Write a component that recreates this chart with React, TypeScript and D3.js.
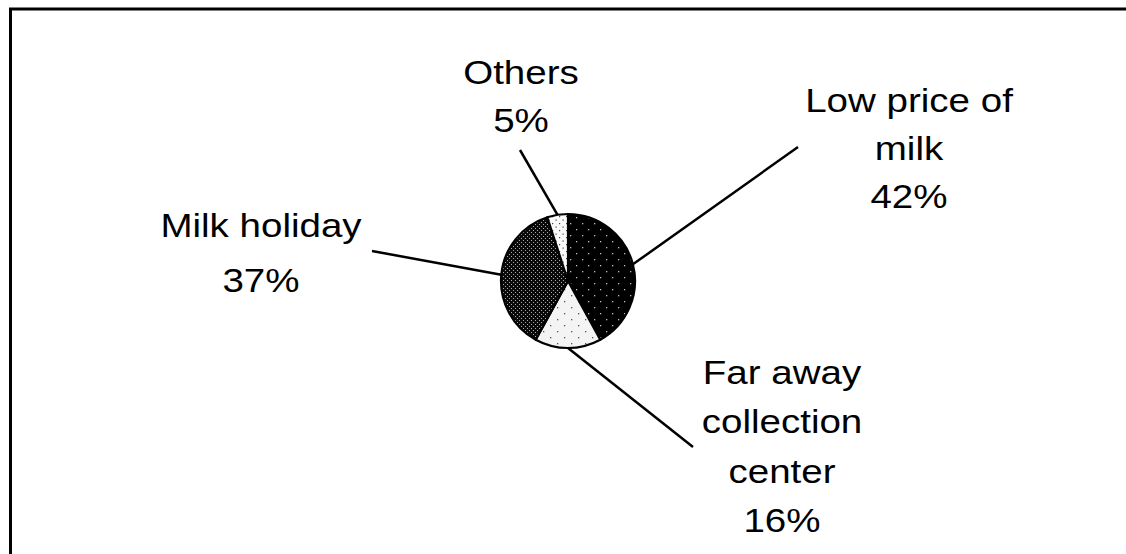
import React from "react";
import * as d3 from "d3";

// Reasons given for the problem, share of respondents (%)
const categories = ["Low price of milk", "Far away collection center", "Milk holiday", "Others"];
const values = [42, 16, 37, 5];
const labelLines = [
  ["Low price of", "milk", "42%"],
  ["Far away", "collection", "center", "16%"],
  ["Milk holiday", "37%"],
  ["Others", "5%"],
];

// Label placement: text centre x, first baseline, line spacing, leader end point
const labelLayout = [
  { x: 909, y: 112, lh: 48, lx: 798, ly: 147 },
  { x: 782, y: 384, lh: 49.5, lx: 693, ly: 447 },
  { x: 261, y: 237, lh: 55, lx: 372, ly: 251 },
  { x: 521, y: 84, lh: 48.5, lx: 520, ly: 150 },
];

const fills = ["url(#patLow)", "url(#patFar)", "url(#patHoliday)", "url(#patOthers)"];

const W = 1126;
const H = 554;
const cx = 568;
const cy = 281;
const R = 67;

export default function App() {
  const pie = d3.pie<number>().sort(null).value((d) => d);
  const arcs = pie(values);
  const arc = d3.arc<d3.PieArcDatum<number>>().innerRadius(0).outerRadius(R);
  const edge = d3.arc<d3.PieArcDatum<number>>().innerRadius(R).outerRadius(R);

  return (
    <svg
      width={W}
      height={H}
      style={{ position: "absolute", left: 0, top: 0, background: "#fff" }}
      fontFamily="'Liberation Sans', Arial, sans-serif"
    >
      <defs>
        <pattern id="patLow" width="12" height="12" patternUnits="userSpaceOnUse">
          <rect width="12" height="12" fill="#000" />
          <rect x="2" y="2" width="1.3" height="1.3" fill="#bbb" />
          <rect x="8" y="8" width="1.3" height="1.3" fill="#bbb" />
        </pattern>
        <pattern id="patFar" width="14" height="12" patternUnits="userSpaceOnUse">
          <rect width="14" height="12" fill="#f4f4f4" />
          <rect x="3" y="2" width="1.3" height="1.3" fill="#555" />
          <rect x="10" y="8" width="1.3" height="1.3" fill="#555" />
        </pattern>
        <pattern id="patHoliday" width="4" height="4" patternUnits="userSpaceOnUse">
          <rect width="4" height="4" fill="#0a0a0a" />
          <rect x="1" y="1" width="1" height="1" fill="#aaa" />
          <rect x="3" y="3" width="1" height="1" fill="#aaa" />
        </pattern>
        <pattern id="patOthers" width="7" height="7" patternUnits="userSpaceOnUse">
          <rect width="7" height="7" fill="#fafafa" />
          <rect x="1.5" y="1.5" width="1.2" height="1.2" fill="#444" />
          <rect x="5" y="5" width="1.2" height="1.2" fill="#444" />
        </pattern>
      </defs>

      {/* chart area frame */}
      <rect x={10.5} y={9} width={W + 20} height={H + 20} fill="none" stroke="#000" strokeWidth={3} />

      {/* leader lines */}
      {arcs.map((a, i) => {
        const [ex, ey] = edge.centroid(a);
        const L = labelLayout[i];
        return (
          <line
            key={"l" + i}
            x1={cx + ex}
            y1={cy + ey}
            x2={L.lx}
            y2={L.ly}
            stroke="#000"
            strokeWidth={2.5}
          />
        );
      })}

      {/* slices */}
      <g transform={`translate(${cx},${cy})`}>
        {arcs.map((a, i) => (
          <path
            key={categories[i]}
            d={arc(a) || ""}
            fill={fills[i]}
            stroke="#000"
            strokeWidth={2.2}
            strokeLinejoin="round"
          />
        ))}
      </g>

      {/* labels */}
      {labelLines.map((lines, i) => {
        const L = labelLayout[i];
        return (
          <g key={"t" + i} transform={`translate(${L.x},0) scale(1.15,1)`}>
            {lines.map((s, j) => (
              <text key={j} x={0} y={L.y + j * L.lh} textAnchor="middle" fontSize={33.5} fill="#000">
                {s}
              </text>
            ))}
          </g>
        );
      })}
    </svg>
  );
}
